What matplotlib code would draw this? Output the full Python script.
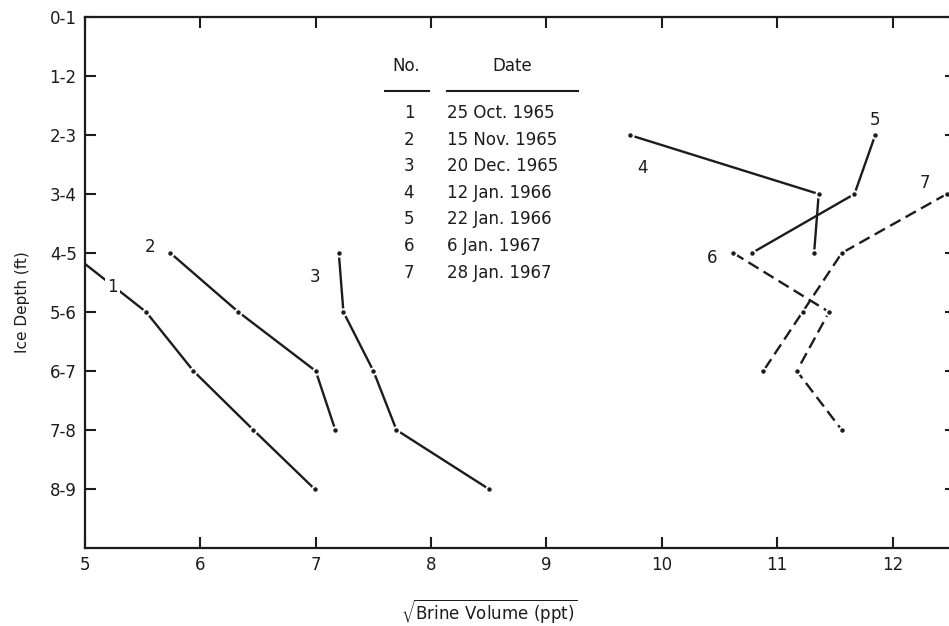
import matplotlib
matplotlib.use('Agg')
import matplotlib.pyplot as plt

plt.rcParams['font.family'] = ['DejaVu Sans']
plt.rcParams['mathtext.fontset'] = 'dejavusans'

# depth classes (y axis, top to bottom)
depth_labels = ['0-1', '1-2', '2-3', '3-4', '4-5', '5-6', '6-7', '7-8', '8-9']

# sqrt brine volume per profile
s1_x = [4.88, 5.53, 5.94, 6.46, 6.99]
s1_d = [4, 5, 6, 7, 8]
s2_x = [5.74, 6.33, 7.00, 7.17]
s2_d = [4, 5, 6, 7]
s3_x = [7.20, 7.24, 7.50, 7.70, 8.50]
s3_d = [4, 5, 6, 7, 8]
s4_x = [9.72, 11.36, 11.32]
s4_d = [2, 3, 4]
s5_x = [11.85, 11.67, 10.78]
s5_d = [2, 3, 4]
s6_x = [10.62, 11.45, 11.17, 11.56]
s6_d = [4, 5, 6, 7]
s7_x = [12.47, 11.56, 11.22, 10.88]
s7_d = [3, 4, 5, 6]

nums = ['1', '2', '3', '4', '5', '6', '7']
dates = ['25 Oct. 1965', '15 Nov. 1965', '20 Dec. 1965', '12 Jan. 1966',
         '22 Jan. 1966', '6 Jan. 1967', '28 Jan. 1967']

W, H = 949, 626
ink = '#1c1c1c'

def fx(px):
    return px / W

def fy(py):
    return 1 - py / H

fig = plt.figure(figsize=(W / 100, H / 100), dpi=100)
ax = fig.add_axes([fx(85), fy(548), (956 - 85) / W, (548 - 17) / H])
ax.set_xlim(5, 12.55)
ax.set_ylim(9, 0)

ax.set_xticks(range(5, 13))
ax.set_yticks(range(len(depth_labels)))
ax.set_yticklabels(depth_labels)
ax.tick_params(direction='in', length=8, width=1.5, top=True, right=True,
               labelsize=12, colors=ink, pad=6)
for sp in ax.spines.values():
    sp.set_linewidth(1.6)
    sp.set_color(ink)

series = [
    (s1_x, s1_d, '-'),
    (s2_x, s2_d, '-'),
    (s3_x, s3_d, '-'),
    (s4_x, s4_d, '-'),
    (s5_x, s5_d, '-'),
    (s6_x, s6_d, (0, (5, 2.5))),
    (s7_x, s7_d, (0, (5, 2.5))),
]
for xs, ds, ls in series:
    # line with a small break at each reading, then a dot there
    ax.plot(xs, ds, color=ink, lw=1.7, ls=ls, marker='o', ms=5,
            mfc='white', mec='white')
    ax.plot(xs, ds, ls='none', marker='o', ms=2.2, color=ink)

# curve numbers
lab_pos = [(5.24, 4.58), (5.56, 3.9), (6.99, 4.4), (9.83, 2.56),
           (11.85, 1.75), (10.44, 4.08), (12.28, 2.81)]
for n, (lx, ly) in zip(nums, lab_pos):
    ax.text(lx, ly, n, fontsize=12, color=ink, ha='center', va='center',
            bbox=dict(facecolor='white', edgecolor='none', pad=1.5))

# key table
fig.text(fx(406), fy(66), 'No.', fontsize=12, color=ink, ha='center', va='center')
fig.text(fx(512), fy(66), 'Date', fontsize=12, color=ink, ha='center', va='center')
fig.add_artist(plt.Line2D([fx(385), fx(429)], [fy(91), fy(91)], color=ink, lw=1.5))
fig.add_artist(plt.Line2D([fx(447), fx(578)], [fy(91), fy(91)], color=ink, lw=1.5))
for i, (n, d) in enumerate(zip(nums, dates)):
    yy = fy(113 + i * 26.6)
    fig.text(fx(409), yy, n, fontsize=12, color=ink, ha='center', va='center')
    fig.text(fx(447), yy, d, fontsize=12, color=ink, ha='left', va='center')

ax.set_xlabel(r'$\sqrt{\mathrm{Brine\ Volume\ (ppt)}}$', fontsize=12, color=ink, va='center')
ax.xaxis.set_label_coords(0.464, -0.12)
ax.set_ylabel('Ice Depth (ft)', fontsize=11, color=ink, va='center')
ax.yaxis.set_label_coords(-0.072, 0.463)

fig.savefig('out.png', dpi=100, facecolor='white')
